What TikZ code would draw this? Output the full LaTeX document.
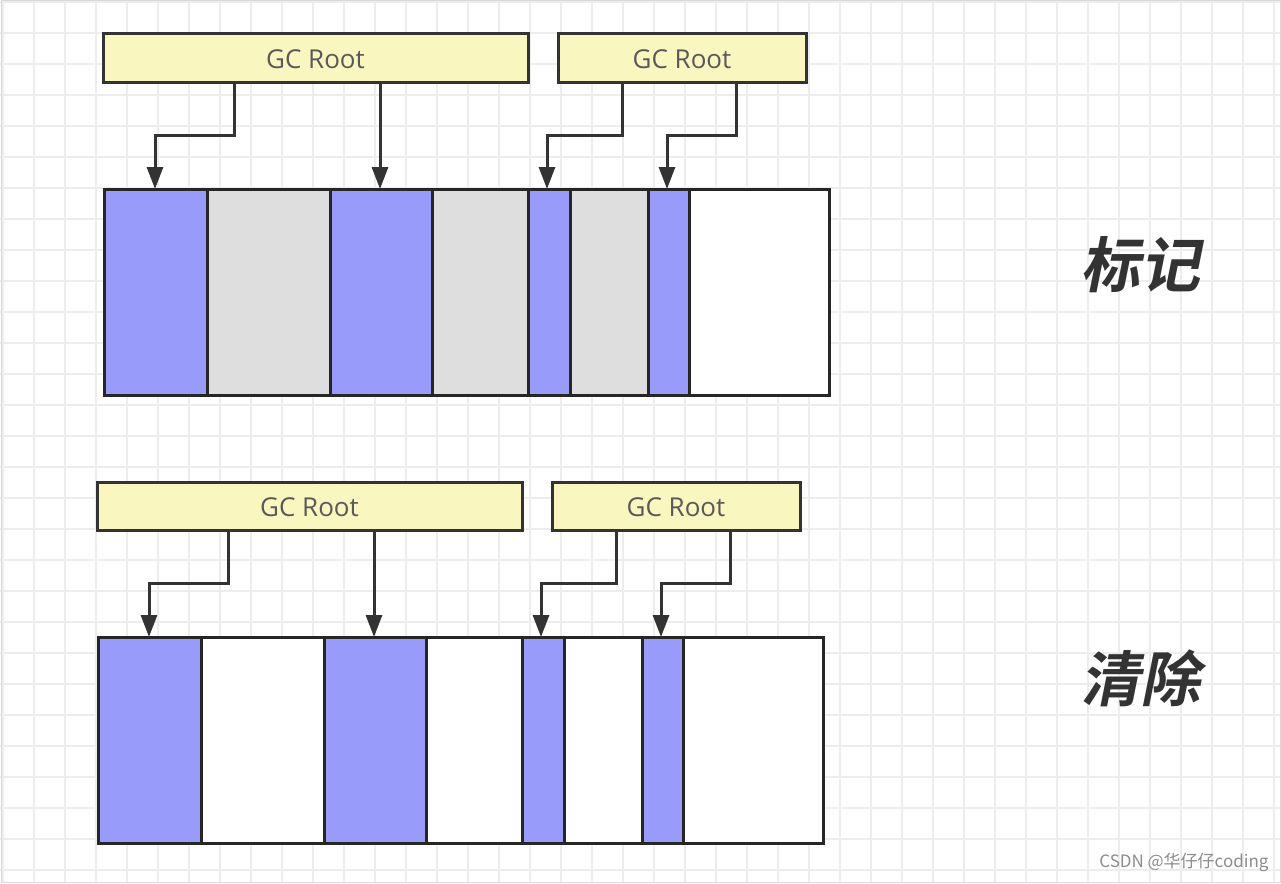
\documentclass[tikz,border=0pt]{standalone}
\usepackage{fontspec}
\setmainfont{Open Sans}
\newfontfamily\cjk{Noto Sans CJK SC Bold}[FakeSlant=0.2]
\newfontfamily\cjkw{Noto Sans CJK SC}
\usetikzlibrary{arrows.meta}
\begin{document}
\begin{tikzpicture}[x=1pt,y=-1pt,
  root/.style={draw=black!80,line width=3pt,fill=rootc},
  cell/.style={draw=black!85,line width=3pt},
  live/.style={cell,fill=livec},
  dead/.style={cell,fill=deadc},
  free/.style={cell,fill=white},
  arr/.style={draw=black!80,line width=3pt,-{Triangle[length=22pt,width=16pt]}},
  lbl/.style={font=\fontsize{26}{28}\selectfont,text=black!65}]
\definecolor{rootc}{HTML}{FAF6C0}
\definecolor{livec}{HTML}{999BFB}
\definecolor{deadc}{HTML}{DEDEDE}
\useasboundingbox (0,0) rectangle (1281,883);
\fill[white] (0,0) rectangle (1281,883);
\foreach \i in {3,34,...,1281} \draw[black!7,line width=1.2pt] (\i,0) -- (\i,883);
\foreach \j in {2,33,...,883} \draw[black!7,line width=1.2pt] (0,\j) -- (1281,\j);
\draw[black!15,line width=1pt] (1,1) rectangle (1280,882);
\foreach \dx/\dy/\nm [count=\k] in {0/0/A,-6/448/B}{
\begin{scope}[shift={(\dx,\dy)}]
\draw[root] (103,34) rectangle (528,82); \node[lbl] (r1\nm) at (315.5,59) {GC Root};
\draw[root] (558,34) rectangle (806,82); \node[lbl] (r2\nm) at (682,59) {GC Root};
\ifnum\k=1
 \path[dead] (207,189) rectangle (330,395);
 \path[dead] (432,189) rectangle (528,395);
 \path[dead] (570,189) rectangle (648,395);
\else
 \path[free] (207,189) rectangle (330,395);
 \path[free] (432,189) rectangle (528,395);
 \path[free] (570,189) rectangle (648,395);
\fi
\path[live] (104,189) rectangle (207,395);
\path[live] (330,189) rectangle (432,395);
\path[live] (528,189) rectangle (570,395);
\path[live] (648,189) rectangle (689,395);
\path[free] (689,189) rectangle (829,395);
\coordinate (a1) at (155,189); \coordinate (a2) at (380,189);
\coordinate (a3) at (547,189); \coordinate (a4) at (667,189);
\draw[arr] (234,82) -- (234,135) -- (155,135) -- (a1);
\draw[arr] (380,82) -- (a2);
\draw[arr] (622,82) -- (622,135) -- (547,135) -- (a3);
\draw[arr] (736,82) -- (736,135) -- (667,135) -- (a4);
\end{scope}}
\node[font=\cjk\fontsize{60}{60}\selectfont,text=black!80] (t1) at (1140,265) {标记};
\node[font=\cjk\fontsize{60}{60}\selectfont,text=black!80] (t2) at (1140,678) {清除};
\node[font=\cjkw\fontsize{17}{17}\selectfont,text=black!45,anchor=east] (wm) at (1272,862) {CSDN @华仔仔coding};
\end{tikzpicture}
\end{document}
